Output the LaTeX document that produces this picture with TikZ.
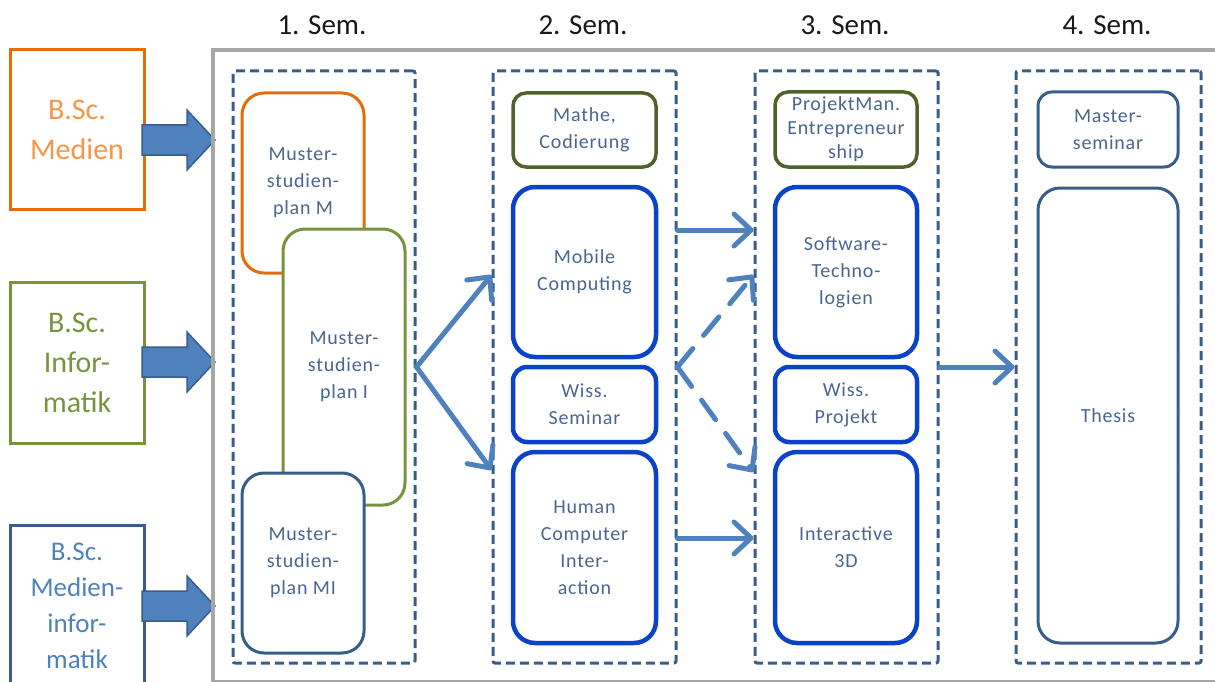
\documentclass[tikz,border=0pt]{standalone}
\usepackage{fontspec}
\setmainfont{Carlito}
\newfontfamily\spaced[LetterSpace=4]{Carlito}
\usetikzlibrary{arrows.meta,calc}
\definecolor{orangeB}{HTML}{E46C0A}
\definecolor{orangeT}{HTML}{F79646}
\definecolor{greenB}{HTML}{77933C}
\definecolor{oliveB}{HTML}{4F6228}
\definecolor{slateB}{HTML}{385D8A}
\definecolor{lightB}{HTML}{4F81BD}
\definecolor{brightB}{HTML}{0A42C8}
\definecolor{innerT}{HTML}{4A6690}
\definecolor{frameG}{HTML}{A6A6A6}
\begin{document}
\begin{tikzpicture}[x=1pt,y=-1pt,
  srcbox/.style={draw, line width=3pt, minimum width=134pt, minimum height=160pt, inner sep=0pt, align=center, font=\fontsize{30}{40}\selectfont},
  semlabel/.style={anchor=base, font=\fontsize{29}{34}\selectfont, text=black!90},
  column/.style={draw=slateB, line width=3pt, dash pattern=on 9pt off 5pt, rounded corners=2pt, inner sep=0pt},
  course/.style={draw, fill=white, rounded corners=#1, inner sep=0pt, align=center, text=innerT, font=\spaced\fontsize{20}{27}\selectfont},
  course/.default=22pt,
  thinb/.style={line width=3pt},
  thickb/.style={draw=brightB, line width=4.5pt},
  conn/.style={draw=lightB, line width=5pt, line cap=round, -{Straight Barb[length=17pt,width=32pt,round]}},
  dconn/.style={conn, dash pattern=on 24pt off 17pt},
  barrow/.pic={\draw[fill=lightB, draw=slateB, line width=1.5pt, line join=miter]
     (0,-15) -- (45,-15) -- (45,-30) -- (73,0) -- (45,30) -- (45,15) -- (0,15) -- cycle;}
]
\useasboundingbox (0,0) rectangle (1215,682);

% source programmes
\node[srcbox, draw=orangeB, text=orangeT, minimum height=159pt] (bm) at (77,129.5) {B.Sc.\\Medien};
\node[srcbox, draw=greenB, text=greenB, minimum height=161pt] (bi) at (77,362.5) {B.Sc.\\Infor-\\matik};
\node[srcbox, draw=slateB, text=lightB, minimum height=161pt, font=\fontsize{27}{36}\selectfont] (bmi) at (77,605.5) {B.Sc.\\Medien-\\infor-\\matik};

\pic at (142,140) {barrow};
\pic at (142,362) {barrow};
\pic at (142,606) {barrow};

% outer frame
\draw[frameG, line width=4pt] (213,50.5) rectangle (1240,681.5);

% semester columns
\node[column, minimum width=182pt, minimum height=592pt] (c1) at (324,367) {};
\node[column, minimum width=183pt, minimum height=592pt] (c2) at (584.5,367) {};
\node[column, minimum width=183pt, minimum height=592pt] (c3) at (846.5,367) {};
\node[column, minimum width=185pt, minimum height=592pt] (c4) at (1108.5,367) {};

\node[semlabel] (s1) at (322,35) {1. Sem.};
\node[semlabel] (s2) at (583,35) {2. Sem.};
\node[semlabel] (s3) at (845,35) {3. Sem.};
\node[semlabel] (s4) at (1107,35) {4. Sem.};

% column 1
\node[course, draw=orangeB, thinb, minimum width=122pt, minimum height=180pt] (m1) at (303,183) {Muster-\\studien-\\plan M};
\node[course, draw=greenB, thinb, minimum width=122pt, minimum height=276pt] (m2) at (344,367) {Muster-\\studien-\\plan I};
\node[course, draw=slateB, thinb, minimum width=122pt, minimum height=180pt] (m3) at (303,563) {Muster-\\studien-\\plan MI};

% column 2
\node[course=13pt, draw=oliveB, line width=3.5pt, minimum width=143pt, minimum height=74pt] (k1) at (584.5,130) {Mathe,\\Codierung};
\node[course, thickb, minimum width=143pt, minimum height=170pt] (k2) at (584.5,272) {Mobile\\Computing};
\node[course=14pt, thickb, minimum width=143pt, minimum height=75pt] (k3) at (584.5,404.5) {Wiss.\\Seminar};
\node[course, thickb, minimum width=143pt, minimum height=191pt] (k4) at (584.5,547.5) {Human\\Computer\\Inter-\\action};

% column 3
\node[course=13pt, draw=oliveB, line width=3.5pt, minimum width=142pt, minimum height=75pt, font=\spaced\fontsize{20}{24}\selectfont] (p1) at (846,129.5) {ProjektMan.\\Entrepreneur\\ship};
\node[course, thickb, minimum width=142pt, minimum height=170pt] (p2) at (846,272) {Software-\\Techno-\\logien};
\node[course=14pt, thickb, minimum width=142pt, minimum height=75pt] (p3) at (846,404.5) {Wiss.\\Projekt};
\node[course, thickb, minimum width=142pt, minimum height=191pt] (p4) at (846,547.5) {Interactive\\3D};

% column 4
\node[course=14pt, draw=slateB, thinb, minimum width=140pt, minimum height=75pt] (q1) at (1108,129.5) {Master-\\seminar};
\node[course, draw=slateB, thinb, minimum width=140pt, minimum height=455pt] (q2) at (1108,415.5) {Thesis};

% connector points
\coordinate (v1) at (c1.east);
\coordinate (t1) at (c2.west |- 0,275);
\coordinate (t2) at (c2.west |- 0,470);
\coordinate (v2) at (c2.east);
\coordinate (t3) at (c3.west |- 0,275);
\coordinate (t4) at (c3.west |- 0,472);
\coordinate (a1) at (c2.east |- 0,230);
\coordinate (b1) at (c3.west |- 0,230);
\coordinate (a2) at (c2.east |- 0,538);
\coordinate (b2) at (c3.west |- 0,538);

\draw[conn] (v1) -- (t1);
\draw[conn] (v1) -- (t2);
\draw[conn] (a1) -- (b1);
\draw[conn] (a2) -- (b2);
\draw[dconn] (v2) -- (t3);
\draw[dconn] (v2) -- (t4);
\draw[conn] (c3.east) -- (c4.west);
\end{tikzpicture}
\end{document}
